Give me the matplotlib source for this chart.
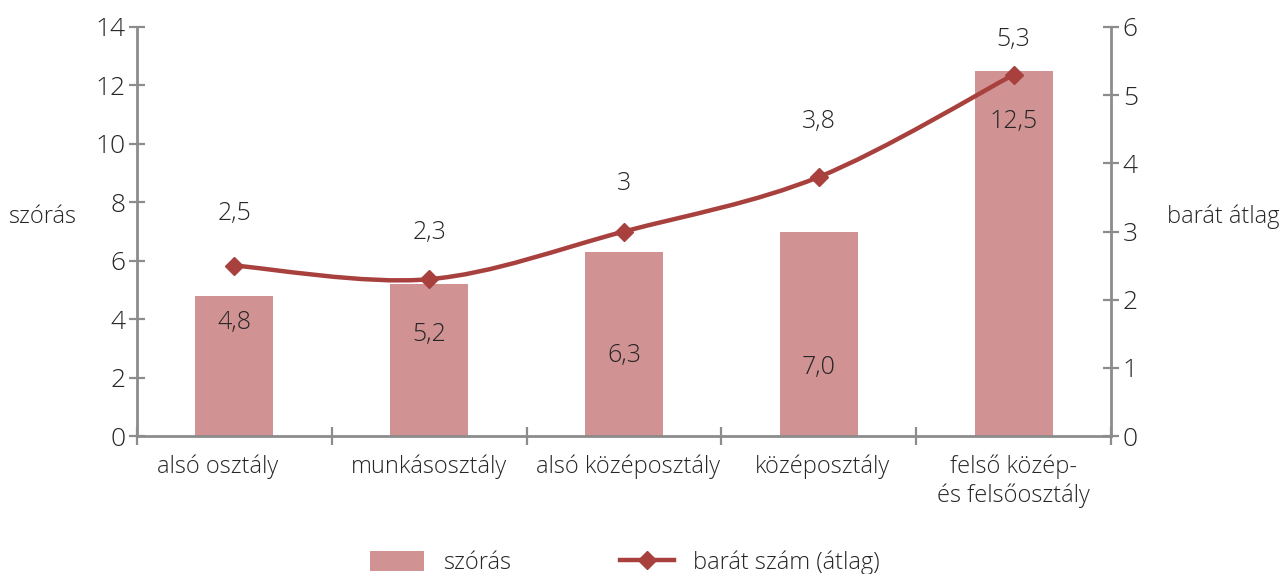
import matplotlib
matplotlib.use("Agg")
import matplotlib.pyplot as plt
import matplotlib.transforms as mtransforms
from matplotlib.path import Path
from matplotlib.patches import PathPatch
from matplotlib.lines import Line2D
from matplotlib.patches import Patch
import numpy as np

categories = ["alsó osztály", "munkásosztály", "alsó középosztály", "középosztály",
              "felső közép-\nés felsőosztály"]
szoras = [4.8, 5.2, 6.3, 7.0, 12.5]
barat = [2.5, 2.3, 3.0, 3.8, 5.3]
szoras_labels = ["4,8", "5,2", "6,3", "7,0", "12,5"]
barat_labels = ["2,5", "2,3", "3", "3,8", "5,3"]
left_ticks = [0, 2, 4, 6, 8, 10, 12, 14]
right_ticks = [0, 1, 2, 3, 4, 5, 6]

# label placement (layout only)
bar_label_y = [3.87, 3.46, 2.77, 2.33, 10.75]
line_label_y = [3.26, 2.99, 3.70, 4.61, 5.82]
cat_label_dx_px = [-17, 0, 4, 4, 0]

FONT = "Open Sans"
plt.rcParams['font.family'] = [FONT, 'DejaVu Sans']
plt.rcParams['font.weight'] = 'light'
TXT = "#262626"
AX = "#8c8c8c"
BAR = "#d09292"
LINE = "#a8413d"

fig = plt.figure(figsize=(12.81, 5.74), dpi=100)
ax = fig.add_axes([137/1281, 1-436/574, (1111-137)/1281, (436-27)/574])
ax2 = ax.twinx()

x = np.arange(len(categories))
ax.bar(x, szoras, width=0.4, color=BAR, zorder=2)
ax.set_xlim(-0.5, len(categories) - 0.5)
ax.set_ylim(0, 14)
ax.set_yticks(left_ticks)
ax.set_yticklabels([str(t) for t in left_ticks], fontsize=19, color=TXT)
ax2.set_ylim(0, 6)
ax2.set_yticks(right_ticks)
ax2.set_yticklabels([str(t) for t in right_ticks], fontsize=19, color=TXT)

for a in (ax, ax2):
    for s in a.spines.values():
        s.set_visible(False)
ax.spines['left'].set_visible(True)
ax.spines['bottom'].set_visible(True)
ax2.spines['right'].set_visible(True)
for s in (ax.spines['left'], ax.spines['bottom'], ax2.spines['right']):
    s.set_color(AX)
    s.set_linewidth(2.0)

ax.tick_params(axis='y', direction='inout', length=11, width=1.6, color=AX, pad=3)
ax2.tick_params(axis='y', direction='inout', length=11, width=1.6, color=AX, pad=3)

# category boundaries as major ticks, labels as minor
ax.set_xticks(np.arange(-0.5, len(categories), 1.0))
ax.set_xticklabels([])
ax.set_xticks(x, minor=True)
ax.set_xticklabels(categories, minor=True, fontsize=17, color=TXT, linespacing=1.25)
ax.tick_params(axis='x', which='major', direction='inout', length=13, width=1.6, color=AX)
ax.tick_params(axis='x', which='minor', length=0, pad=13)
for lbl, dx in zip(ax.get_xticklabels(minor=True), cat_label_dx_px):
    lbl.set_transform(lbl.get_transform() +
                      mtransforms.ScaledTranslation(dx / 100, 0, fig.dpi_scale_trans))

# smooth line (Catmull-Rom as cubic Bezier in data coords)
px = np.array(x, dtype=float)
py = np.array(barat, dtype=float)
verts = [(px[0], py[0])]
codes = [Path.MOVETO]
n = len(px)
for i in range(n - 1):
    p0 = np.array([px[max(i-1, 0)], py[max(i-1, 0)]])
    p1 = np.array([px[i], py[i]])
    p2 = np.array([px[i+1], py[i+1]])
    p3 = np.array([px[min(i+2, n-1)], py[min(i+2, n-1)]])
    c1 = p1 + (p2 - p0) / 6.0
    c2 = p2 - (p3 - p1) / 6.0
    verts += [tuple(c1), tuple(c2), tuple(p2)]
    codes += [Path.CURVE4] * 3
ax2.add_patch(PathPatch(Path(verts, codes), facecolor='none', edgecolor=LINE,
                        lw=3.2, zorder=3, capstyle='round'))
ax2.plot(x, barat, linestyle='none', marker='D', markersize=9.5, color=LINE, zorder=4)

for xi, lab, ly in zip(x, szoras_labels, bar_label_y):
    ax.text(xi, ly, lab, ha='center', va='center', fontsize=18, color=TXT, zorder=5)
for xi, lab, ly in zip(x, barat_labels, line_label_y):
    ax2.text(xi, ly, lab, ha='center', va='center', fontsize=18, color=TXT, zorder=5)

fig.text(42/1281, 1-217/574, "szórás", ha='center', va='center', fontsize=17, color=TXT)
fig.text(1223/1281, 1-217/574, "barát átlag", ha='center', va='center', fontsize=17, color=TXT)

handles = [Patch(facecolor=BAR, edgecolor='none'),
           Line2D([0], [0], color=LINE, lw=3.2, marker='D', markersize=9.5)]
fig.legend(handles, ["szórás", "barát szám (átlag)"], loc='center',
           bbox_to_anchor=(625/1281, 1-563/574), ncol=2, frameon=False,
           fontsize=17, handlelength=2.3, handleheight=0.9, columnspacing=4.6,
           handletextpad=0.8, labelcolor=TXT)

fig.savefig("out.png", dpi=100)
